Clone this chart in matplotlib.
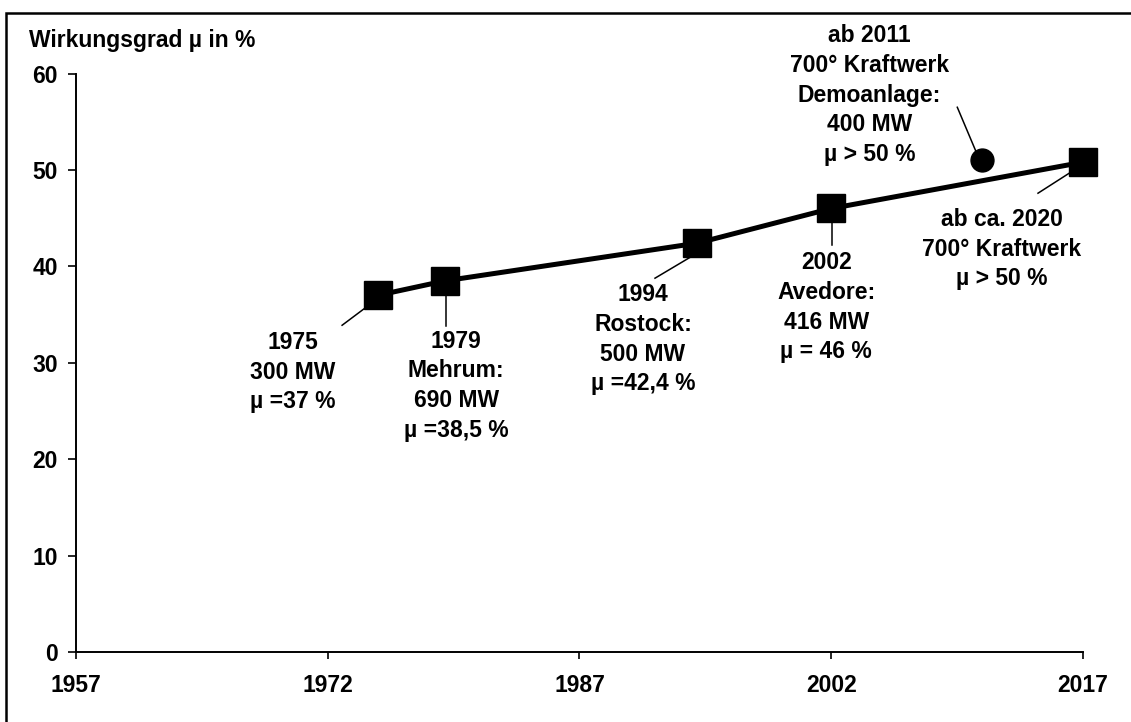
import matplotlib
matplotlib.use("Agg")
import matplotlib.pyplot as plt
from matplotlib.patches import Rectangle
from matplotlib.transforms import offset_copy

# ---- data ----
years = [1975, 1979, 1994, 2002, 2017]
efficiency = [37, 38.5, 42.4, 46, 50.8]
demo_year = [2011]
demo_efficiency = [51]
x_ticks = [1957, 1972, 1987, 2002, 2017]
y_ticks = [0, 10, 20, 30, 40, 50, 60]
y_label = "Wirkungsgrad µ in %"
labels = [
    "1975\n300 MW\nµ =37 %",
    "1979\nMehrum:\n690 MW\nµ =38,5 %",
    "1994\nRostock:\n500 MW\nµ =42,4 %",
    "2002\nAvedore:\n416 MW\nµ = 46 %",
    "ab ca. 2020\n700° Kraftwerk\nµ > 50 %",
]
demo_label = "ab 2011\n700° Kraftwerk\nDemoanlage:\n400 MW\nµ > 50 %"

# ---- layout (offsets in pixels from each point) ----
text_off = [(-85, -77), (11, -105), (-54, -96), (-5, -99), (-81, -87)]
lead_start = [(-12, -12), (1, -13), (-5, -13), (1, -13), (-6, -6)]
lead_end = [(-36, -30), (1, -45), (-42, -35), (1, -37), (-45, -31)]
demo_text_off = (-113, 65)
demo_lead = ((-6, 8), (-25, 53))

plt.rcParams['font.family'] = ['Liberation Sans', 'DejaVu Sans']
plt.rcParams['font.weight'] = 'bold'
FS = 16.5
LS = 1.37

W, H = 1131, 722
fig = plt.figure(figsize=(W/100, H/100), dpi=100)
ax = fig.add_axes([76/W, 1 - 652/H, (1083-76)/W, (652-73.5)/H])

ax.plot(years, efficiency, color='black', lw=3.6, marker='s', ms=19.5,
        markerfacecolor='black', markeredgecolor='black', clip_on=False, zorder=3)
ax.plot(demo_year, demo_efficiency, linestyle='none', marker='o', ms=16.5,
        color='black', clip_on=False, zorder=3)

ax.set_xlim(1957, 2017)
ax.set_ylim(0, 60)
ax.set_xticks(x_ticks)
ax.set_yticks(y_ticks)
ax.tick_params(axis='x', direction='out', length=5, width=1.2, pad=11, labelsize=FS)
ax.tick_params(axis='y', direction='out', length=6, width=1.2, pad=7, labelsize=FS)
for lab in ax.get_xticklabels() + ax.get_yticklabels():
    lab.set_fontweight('bold')
ax.spines['top'].set_visible(False)
ax.spines['right'].set_visible(False)
ax.spines['left'].set_linewidth(1.4)
ax.spines['bottom'].set_linewidth(1.4)


def leader(x, y, start, end):
    p0 = offset_copy(ax.transData, fig=fig, x=start[0], y=start[1], units='dots').transform((x, y))
    p1 = offset_copy(ax.transData, fig=fig, x=end[0], y=end[1], units='dots').transform((x, y))
    fig.add_artist(plt.Line2D([p0[0]/W, p1[0]/W], [p0[1]/H, p1[1]/H],
                              color='black', lw=1.1, transform=fig.transFigure))


for x, y, lab, to, ls, le in zip(years, efficiency, labels, text_off, lead_start, lead_end):
    ax.annotate(lab, xy=(x, y), xytext=to, textcoords='offset pixels',
                ha='center', va='center', multialignment='center',
                fontsize=FS, fontweight='bold', linespacing=LS)
    leader(x, y, ls, le)

x, y = demo_year[0], demo_efficiency[0]
ax.annotate(demo_label, xy=(x, y), xytext=demo_text_off, textcoords='offset pixels',
            ha='center', va='center', multialignment='center',
            fontsize=FS, fontweight='bold', linespacing=LS)
leader(x, y, demo_lead[0], demo_lead[1])

fig.text(29/W, 1 - 40/H, y_label, ha='left', va='center',
         fontsize=FS, fontweight='bold')

fig.add_artist(Rectangle((6/W, -0.05), 1.2, 1.05 - 12.7/H, transform=fig.transFigure,
                         fill=False, edgecolor='black', lw=1.8))

fig.savefig('out.png', dpi=100)
